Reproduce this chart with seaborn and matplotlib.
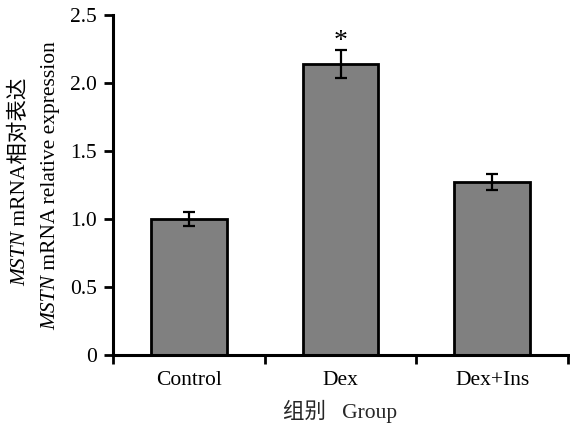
import numpy as np
import pandas as pd
import matplotlib
matplotlib.use('Agg')
import matplotlib.pyplot as plt
import seaborn as sns

# data
groups = ['Control', 'Dex', 'Dex+Ins']
means = [1.00, 2.14, 1.27]
errs = [0.05, 0.105, 0.06]
yticks = [0, 0.5, 1.0, 1.5, 2.0, 2.5]
ytick_labels = ['0', '0.5', '1.0', '1.5', '2.0', '2.5']
star_labels = ['', '*', '']

sns.set_style('ticks', {'axes.edgecolor': 'black', 'text.color': 'black',
                        'xtick.color': 'black', 'ytick.color': 'black'})
plt.rcParams['font.family'] = ['Liberation Serif', 'Noto Sans CJK SC']

W, H = 570, 429
fs = 15.5
fig = plt.figure(figsize=(W / 100, H / 100), dpi=100)
ax = fig.add_axes([113 / W, 74 / H, 455 / W, 340 / H])

df = pd.DataFrame({'group': groups, 'value': means})
sns.barplot(data=df, x='group', y='value', color='#808080', saturation=1,
            width=0.5, edgecolor='black', linewidth=2, errorbar=None, ax=ax)
ax.errorbar(range(len(groups)), means, yerr=errs, fmt='none', ecolor='black',
            elinewidth=1.6, capsize=4, capthick=1.6)

for i, s in enumerate(star_labels):
    if s:
        ax.text(i, means[i] + errs[i] - 0.03, s, ha='center', va='bottom', fontsize=20)

ax.set_xlim(-0.5, 2.5)
ax.set_ylim(0, 2.5)
ax.set_yticks(yticks)
ax.set_yticklabels(ytick_labels)
ax.set_xticks([-0.5, 0.5, 1.5, 2.5], minor=True)
ax.tick_params(axis='x', which='major', length=0, pad=11.5, labelsize=fs)
ax.tick_params(axis='x', which='minor', length=6.5, width=2, direction='out')
ax.tick_params(axis='y', length=6.5, width=2, pad=5, labelsize=fs, direction='out')
sns.despine(ax=ax)
for s in ['left', 'bottom']:
    ax.spines[s].set_linewidth(2.2)

ax.set_xlabel('组别   Group', fontsize=fs, labelpad=7)
ax.set_ylabel('')


# y label: two rotated lines, with italic gene name
def vlabel(parts, x, yc):
    texts = [fig.text(0, 0, t, rotation=90, rotation_mode='anchor', fontsize=fs,
                      fontstyle=st, ha='left', va='baseline') for t, st in parts]
    fig.canvas.draw()
    r = fig.canvas.get_renderer()
    hs = [t.get_window_extent(r).height for t in texts]
    y = yc - sum(hs) / 2
    for t, h in zip(texts, hs):
        t.set_position((x / W, y / H))
        y += h


vlabel([('MSTN', 'italic'), (' mRNA相对表达', 'normal')], 25, H - 182)
vlabel([('MSTN', 'italic'), (' mRNA relative expression', 'normal')], 55, H - 186)

fig.savefig('out.png', dpi=100)
